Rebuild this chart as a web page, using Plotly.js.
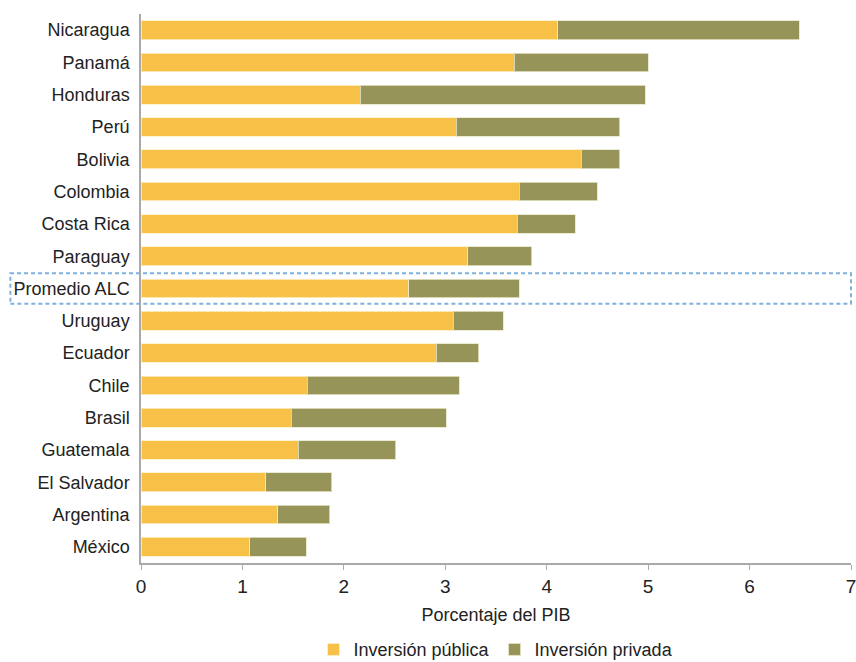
<!DOCTYPE html>
<html>
<head>
<meta charset="utf-8">
<script src="https://cdn.plot.ly/plotly-3.0.1.min.js"></script>
<style>html,body{margin:0;padding:0;background:#fff;}#chart{width:856px;height:662px;}</style>
</head>
<body>
<div id="chart"></div>
<script>
const countries = ["Nicaragua","Panamá","Honduras","Perú","Bolivia","Colombia","Costa Rica","Paraguay","Promedio ALC","Uruguay","Ecuador","Chile","Brasil","Guatemala","El Salvador","Argentina","México"];
const publica = [4.11,3.68,2.16,3.11,4.34,3.73,3.71,3.22,2.64,3.08,2.91,1.64,1.48,1.55,1.23,1.35,1.07];
const total   = [6.49,5.00,4.97,4.72,4.72,4.50,4.28,3.85,3.73,3.57,3.33,3.14,3.01,2.51,1.88,1.86,1.63];
const privada = total.map((t,i)=>+(t-publica[i]).toFixed(2));
const highlight = "Promedio ALC";
const xTicks = [0,1,2,3,4,5,6,7];

const font = "Liberation Sans Narrow, Arial Narrow, Liberation Sans, Arial, sans-serif";
const hIdx = countries.length-1-countries.indexOf(highlight);

const data = [
  {type:"bar", orientation:"h", name:"Inversión pública", y:countries, x:publica,
   marker:{color:"#F7C046", line:{color:"rgba(255,240,200,0.8)", width:1}}},
  {type:"bar", orientation:"h", name:"Inversión privada", y:countries, x:privada,
   marker:{color:"#979459", line:{color:"rgba(230,230,200,0.8)", width:1}}}
];

const layout = {
  width:856, height:662,
  margin:{l:141, r:5, t:14, b:99, autoexpand:false},
  barmode:"stack", bargap:0.42,
  paper_bgcolor:"#fff", plot_bgcolor:"#fff",
  font:{family:font, color:"#222", size:18},
  showlegend:true,
  legend:{orientation:"h", traceorder:"normal", x:0.5, xanchor:"center", y:-0.158, yanchor:"middle",
          font:{size:18, color:"#222"}, itemwidth:30, tracegroupgap:0},
  xaxis:{range:[0,7], tickvals:xTicks, ticktext:xTicks.map(String), showgrid:false, zeroline:false,
         automargin:false,
         showline:true, linecolor:"#aaa", linewidth:1.5, ticks:"outside", ticklen:5, tickcolor:"#aaa",
         ticklabeloverflow:"allow", ticklabelstandoff:0,
         tickfont:{size:19, color:"#222"},
         title:{text:"Porcentaje del PIB", font:{size:18, color:"#222"}, standoff:13}},
  yaxis:{categoryorder:"array", categoryarray:countries.slice().reverse(), autorange:true,
         automargin:false,
         showgrid:false, zeroline:false, showline:true, linecolor:"#aaa", linewidth:1.5,
         ticks:"", ticklabelstandoff:6, tickfont:{size:18, color:"#222"}},
  shapes:[{type:"rect", xref:"paper", yref:"y", x0:-0.184, x1:1.0, y0:hIdx-0.47, y1:hIdx+0.47,
           line:{color:"#7EB0E0", width:2, dash:"4px,3px"}, fillcolor:"rgba(0,0,0,0)"}]
};

Plotly.newPlot("chart", data, layout, {displayModeBar:false});
</script>
</body>
</html>
